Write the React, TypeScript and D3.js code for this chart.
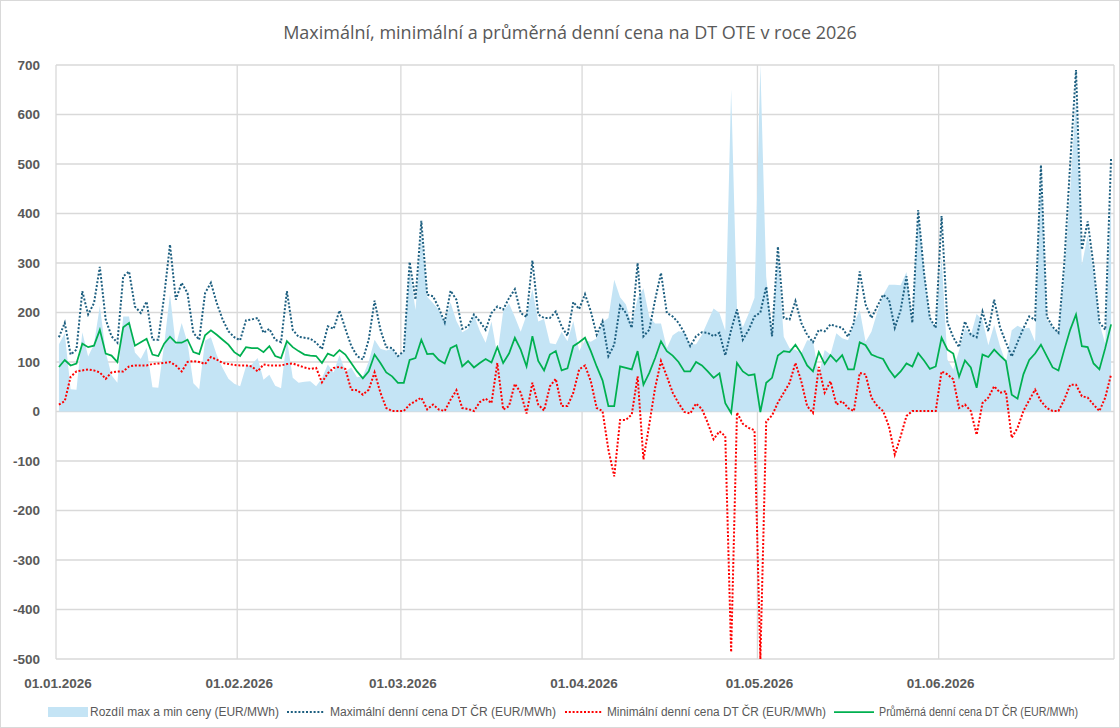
import React from "react";
import * as d3 from "d3";

// ---- DATA (EUR/MWh), daily from 01.01.2026 ----
const maxPrice: number[] = [
  150, 179, 115, 125, 243, 196, 219, 292, 186, 152, 139, 273, 283, 212, 199, 222, 145, 145, 233, 337,
  226, 260, 239, 159, 145, 239, 260, 219, 186, 162, 150, 144, 184, 186, 189, 159, 167, 145, 140, 243,
  165, 151, 149, 147, 139, 126, 172, 167, 204, 167, 133, 112, 105, 145, 224, 165, 130, 128, 112, 122,
  302, 226, 385, 236, 233, 209, 180, 244, 226, 167, 172, 196, 182, 165, 199, 212, 206, 229, 247, 199,
  191, 305, 196, 189, 189, 202, 172, 153, 221, 207, 237, 202, 155, 182, 112, 135, 214, 199, 169, 300,
  152, 165, 226, 280, 199, 192, 179, 159, 132, 152, 160, 159, 152, 159, 113, 165, 206, 145, 165, 192,
  200, 252, 152, 333, 189, 186, 223, 179, 155, 140, 165, 162, 176, 172, 169, 151, 179, 283, 216, 189,
  212, 236, 226, 169, 205, 273, 179, 407, 280, 189, 169, 395, 180, 150, 130, 182, 155, 150, 202, 162,
  226, 170, 140, 111, 140, 168, 192, 185, 498, 192, 171, 159, 300, 500, 690, 327, 384, 295, 180, 165,
  512,
];

const minPrice: number[] = [
  14, 21, 70, 81, 83, 85, 83, 79, 66, 79, 81, 81, 91, 93, 93, 93, 96, 97, 98, 100,
  93, 81, 100, 102, 100, 96, 110, 105, 98, 96, 94, 93, 93, 91, 81, 95, 93, 93, 93, 96,
  97, 93, 89, 86, 88, 59, 77, 88, 90, 86, 44, 43, 34, 44, 79, 38, 7, 1, 1, 1,
  14, 21, 28, 4, 14, 4, 1, 24, 43, 7, 5, 1, 19, 26, 17, 98, 4, 11, 56, 38,
  -4, 58, 14, 2, 51, 66, 11, 11, 38, 85, 93, 61, 7, 1, -77, -131, -17, -17, -6, 71,
  -97, -26, 48, 102, 71, 38, 17, -1, -4, 16, 5, -23, -56, -40, -50, -486, -2, -25, -33, -38,
  -500, -20, -8, 18, 38, 58, 98, 61, 11, -3, 90, 38, 61, 14, 21, 7, 1, 78, 75, 28,
  11, 1, -30, -87, -50, -9, 1, 1, 1, 1, 1, 81, 75, 65, 7, 14, 1, -47, 17, 28,
  51, 38, 41, -53, -33, 1, 23, 44, 21, 7, 1, 1, 24, 54, 54, 31, 28, 14, 1, 28,
  75,
];

const avgPrice: number[] = [
  90, 104, 93, 97, 137, 130, 133, 165, 117, 113, 100, 170, 179, 133, 140, 147, 115, 112, 137, 151,
  139, 139, 145, 120, 116, 154, 164, 155, 145, 135, 120, 112, 130, 128, 128, 120, 132, 112, 108, 142,
  130, 122, 115, 113, 112, 98, 117, 112, 124, 115, 98, 81, 67, 81, 115, 98, 79, 71, 58, 58,
  104, 108, 145, 116, 117, 104, 97, 128, 134, 91, 102, 89, 98, 106, 99, 130, 98, 117, 149, 125,
  91, 152, 102, 83, 115, 122, 83, 87, 132, 140, 149, 122, 91, 63, 11, 11, 91, 88, 85, 122,
  54, 78, 108, 142, 122, 113, 100, 81, 81, 100, 93, 81, 68, 77, 17, -3, 98, 81, 73, 75,
  -1, 58, 68, 113, 122, 120, 135, 117, 93, 81, 120, 96, 114, 101, 114, 85, 85, 140, 134, 115,
  110, 106, 85, 69, 81, 97, 91, 118, 103, 86, 91, 149, 125, 117, 70, 103, 89, 48, 115, 110,
  125, 113, 102, 34, 26, 75, 104, 117, 135, 112, 89, 83, 125, 165, 196, 132, 130, 97, 85, 128,
  176,
];

// spread = max - min (the area series)
const spread: number[] = maxPrice.map((v, i) => v - minPrice[i]);

const yTicks: number[] = [700, 600, 500, 400, 300, 200, 100, 0, -100, -200, -300, -400, -500];

const seriesNames: string[] = [
  "Rozdíl max a min ceny (EUR/MWh)",
  "Maximální denní cena DT ČR (EUR/MWh)",
  "Minimální denní cena DT ČR (EUR/MWh)",
  "Průměrná denní cena DT ČR (EUR/MWh)",
];

const titleText = "Maximální, minimální a průměrná denní cena na DT OTE v roce 2026";

const START = new Date(Date.UTC(2026, 0, 1));
const END = new Date(Date.UTC(2026, 6, 1));

// ---- LAYOUT ----
const W = 1120;
const H = 728;
const PL = 56;
const PR = 1114;
const PT = 65;
const PB = 659;

const COL_AREA = "#c4e4f5";
const COL_MAX = "#1d5f80";
const COL_MIN = "#ff0000";
const COL_AVG = "#00b050";
const COL_GRID = "#d9d9d9";
const COL_TEXT = "#595959";

export default function App() {
  const dates = d3.utcDay.range(START, d3.utcDay.offset(START, maxPrice.length));
  const x = d3.scaleUtc().domain([START, END]).range([PL, PR]);
  const y = d3.scaleLinear().domain([-500, 700]).range([PB, PT]);
  const px = (i: number) => x(d3.utcHour.offset(dates[i], 12));

  const monthTicks = d3.utcMonth.range(START, d3.utcDay.offset(END, 1));
  const fmt = d3.utcFormat("%d.%m.%Y");
  const labelTicks = monthTicks.slice(0, 6);

  const area = d3
    .area<number>()
    .x((_, i) => px(i))
    .y0(y(0))
    .y1((d) => y(Math.min(700, d)));
  const line = d3
    .line<number>()
    .x((_, i) => px(i))
    .y((d) => y(Math.max(-500, Math.min(700, d))));

  const legendFont = "'Liberation Sans', Arial, sans-serif";
  const legendY = 712;
  const legendItems = [
    { sx: 48, ex: 88, tx: 90, tw: 189 },
    { sx: 287, ex: 325, tx: 330, tw: 226 },
    { sx: 565, ex: 602, tx: 607, tw: 219 },
    { sx: 834, ex: 874, tx: 879, tw: 199 },
  ];

  return (
    <svg
      width={W}
      height={H}
      style={{ position: "absolute", left: 0, top: 0, background: "#fff" }}
      fontFamily="'Liberation Sans', Arial, sans-serif"
    >
      <rect x={0.5} y={0.5} width={W - 1} height={H - 1} fill="#fff" stroke={COL_GRID} />
      <text
        x={570}
        y={39}
        textAnchor="middle"
        fontSize={18}
        fill={COL_TEXT}
        fontFamily="'Open Sans', 'Noto Sans', sans-serif"
      >
        {titleText}
      </text>

      {/* grid */}
      <g stroke={COL_GRID} strokeWidth={1.3}>
        {yTicks.map((t) => (
          <line key={"h" + t} x1={PL} x2={PR} y1={y(t)} y2={y(t)} />
        ))}
        {monthTicks.map((m, i) => (
          <line key={"v" + i} x1={x(m)} x2={x(m)} y1={PT} y2={PB} />
        ))}
      </g>

      {/* y labels */}
      <g fontSize={13.5} fontWeight="bold" fill={COL_TEXT} textAnchor="end">
        {yTicks.map((t) => (
          <text key={"yl" + t} x={40} y={y(t)} dy="0.35em">
            {t}
          </text>
        ))}
      </g>

      {/* x labels */}
      <g fontSize={13.5} fontWeight="bold" fill={COL_TEXT} textAnchor="middle">
        {labelTicks.map((m, i) => (
          <text key={"xl" + i} x={x(m) + 2} y={688}>
            {fmt(m)}
          </text>
        ))}
      </g>

      {/* series */}
      <path d={area(spread) || ""} fill={COL_AREA} stroke="none" />
      <path
        d={line(maxPrice) || ""}
        fill="none"
        stroke={COL_MAX}
        strokeWidth={2}
        strokeDasharray="2 1.8"
      />
      <path
        d={line(minPrice) || ""}
        fill="none"
        stroke={COL_MIN}
        strokeWidth={2}
        strokeDasharray="2 1.8"
      />
      <path d={line(avgPrice) || ""} fill="none" stroke={COL_AVG} strokeWidth={1.75} />

      {/* legend */}
      <g fontSize={12.5} fill={COL_TEXT} fontFamily={legendFont}>
        <rect
          x={legendItems[0].sx}
          y={legendY - 5}
          width={legendItems[0].ex - legendItems[0].sx}
          height={10}
          fill={COL_AREA}
        />
        <line
          x1={legendItems[1].sx}
          x2={legendItems[1].ex}
          y1={legendY}
          y2={legendY}
          stroke={COL_MAX}
          strokeWidth={2}
          strokeDasharray="2 1.8"
        />
        <line
          x1={legendItems[2].sx}
          x2={legendItems[2].ex}
          y1={legendY}
          y2={legendY}
          stroke={COL_MIN}
          strokeWidth={2}
          strokeDasharray="2 1.8"
        />
        <line
          x1={legendItems[3].sx}
          x2={legendItems[3].ex}
          y1={legendY}
          y2={legendY}
          stroke={COL_AVG}
          strokeWidth={1.75}
        />
        {seriesNames.map((n, i) => (
          <text
            key={"lg" + i}
            x={legendItems[i].tx}
            y={legendY}
            dy="0.35em"
            textLength={legendItems[i].tw}
            lengthAdjust="spacingAndGlyphs"
          >
            {n}
          </text>
        ))}
      </g>
    </svg>
  );
}
